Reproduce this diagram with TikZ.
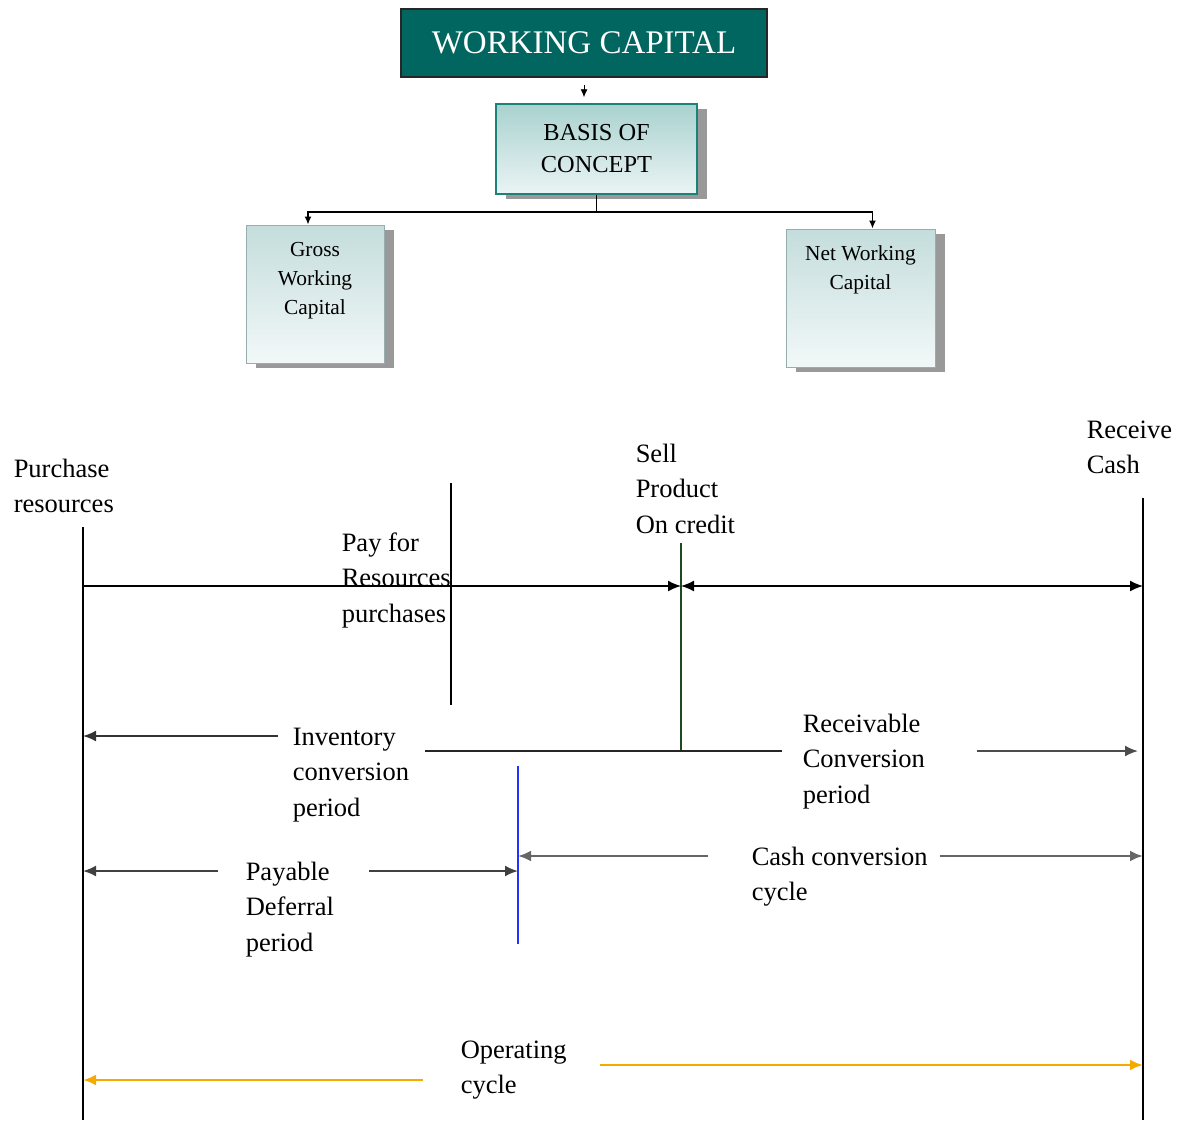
\documentclass[tikz,border=0pt]{standalone}
\usepackage{fontspec}
\setmainfont{Liberation Serif}
\usetikzlibrary{%
    arrows.meta,
    positioning,
    shadows
}
\definecolor{wcteal}{HTML}{00665F}
\definecolor{basistop}{HTML}{A9D2CF}
\definecolor{basisbot}{HTML}{EAF4F4}
\definecolor{basisline}{HTML}{1B8279}
\definecolor{subtop}{HTML}{C4DDDC}
\definecolor{subbot}{HTML}{F2F8F8}
\definecolor{subline}{HTML}{97AEAE}
\definecolor{sellline}{HTML}{1E4A22}
\definecolor{cccline}{HTML}{2233FF}
\definecolor{opline}{HTML}{F5AA00}
\tikzset{headarrow/.style = {-{Latex[length=13pt,width=11pt]}}}
\tikzset{botharrow/.style = {{Latex[length=13pt,width=11pt]}-{Latex[length=13pt,width=11pt]}}}
\tikzset{smallarrow/.style = {-{Latex[length=8pt,width=7pt]}}}
\tikzset{boxshadow/.style = {drop shadow={shadow xshift=10pt,shadow yshift=-5pt,fill=black!40,opacity=1}}}
\tikzset{subbox/.style = {boxshadow,top color=subtop,bottom color=subbot,draw=subline,line width=.8pt,inner sep=0pt}}
\tikzset{subtext/.style = {inner sep=0pt,align=center,anchor=base,font=\fontsize{21.4}{29}\selectfont}}
\tikzset{timetext/.style = {inner sep=0pt,align=left,anchor=base west,font=\fontsize{26.5}{35.5}\selectfont}}

\begin{document}
\begin{tikzpicture}[x=1pt,y=-1pt,line width=1.5pt]
    \useasboundingbox (0,0) rectangle (1181,1120);

    \node[fill=wcteal,draw=black!85,line width=1.5pt,minimum width=366pt,minimum height=68pt,inner sep=0pt,text=white,font=\fontsize{33}{38}\selectfont] (wc) at (584,43) {WORKING CAPITAL};
    \node[boxshadow,top color=basistop,bottom color=basisbot,draw=basisline,line width=1.5pt,minimum width=201pt,minimum height=90pt,inner sep=0pt,align=center,font=\fontsize{24.4}{32}\selectfont] (basis) at (596.5,149) {BASIS OF\\CONCEPT};
    \node[subbox,minimum width=138pt,minimum height=138pt] (gross) at (315,294) {};
    \node[subbox,minimum width=149pt,minimum height=138pt] (net) at (860.5,298) {};
    \node[subtext] (gross-txt) at (315,314) {Gross\\Working\\Capital};
    \node[subtext] (net-txt) at (860.5,289) {Net Working\\Capital};
    \coordinate (fork) at ([yshift=-17pt]basis.south);

    \draw[smallarrow,line width=.9pt,shorten <=7pt,shorten >=6pt] (wc.south) -- (wc.south |- basis.north);
    \draw[line width=1.8pt] (basis.south) -- (fork);
    \draw[smallarrow,line width=1.8pt] (fork) -| ([xshift=-7pt]gross.north);
    \draw[smallarrow,line width=1.8pt] (fork) -| ([xshift=12pt]net.north);

    \node[timetext] (buy) at (13,512.5) {Purchase\\resources};
    \node[timetext] (recv) at (1086,473.5) {Receive\\Cash};
    \node[timetext] (sell) at (635,533) {Sell\\Product\\On credit};
    \node[timetext] (payfor) at (341,622) {Pay for\\Resources\\purchases};
    \node[timetext] (inv) at (292,816) {Inventory\\conversion\\period};
    \node[timetext] (rec) at (802,803) {Receivable\\Conversion\\period};
    \node[timetext] (pay) at (245,951) {Payable\\Deferral\\period};
    \node[timetext] (ccc) at (751,900.5) {Cash conversion\\cycle};
    \node[timetext] (op) at (460,1093.5) {Operating\\cycle};

    \coordinate (buy-top) at (83,527);
    \coordinate (buy-end) at (83,1120);
    \coordinate (recv-top) at (1143,498);
    \coordinate (recv-end) at (1143,1120);
    \coordinate (sell-top) at (681,543);
    \coordinate (sell-end) at (681,751);
    \coordinate (payfor-top) at (451,483);
    \coordinate (payfor-end) at (451,705);
    \coordinate (ccc-top) at (518,766);
    \coordinate (ccc-end) at (518,944);
    \foreach \row/\y in {sell/586, inv/736, rec/751, ccc/856, pay/871, opl/1080, opr/1065}
        \coordinate (r-\row) at (0,\y);

    \draw (buy-top) -- (buy-end);
    \draw (recv-top) -- (recv-end);
    \draw (payfor-top) -- (payfor-end);
    \draw[sellline] (sell-top) -- (sell-end);
    \draw[cccline] (ccc-top) -- (ccc-end);

    \draw[headarrow] (buy-top |- r-sell) -- (sell-top |- r-sell);
    \draw[botharrow] (sell-top |- r-sell) -- (recv-top |- r-sell);
    \draw[headarrow,black!80,line width=1.8pt] ([xshift=-14pt]inv.west |- r-inv) -- (buy-top |- r-inv);
    \draw[black!85] ([xshift=15pt]inv.east |- r-rec) -- ([xshift=-20pt]rec.west |- r-rec);
    \draw[headarrow,black!70,line width=2pt] ([xshift=51pt]rec.east |- r-rec) -- ([xshift=-5pt]recv-top |- r-rec);
    \draw[headarrow,black!75,line width=2pt] ([xshift=-27pt]pay.west |- r-pay) -- (buy-top |- r-pay);
    \draw[headarrow,black!75,line width=2pt] ([xshift=34pt]pay.east |- r-pay) -- (ccc-top |- r-pay);
    \draw[headarrow,black!60,line width=2.5pt] ([xshift=-43pt]ccc.west |- r-ccc) -- (ccc-top |- r-ccc);
    \draw[headarrow,black!60,line width=2.5pt] ([xshift=12pt]ccc.east |- r-ccc) -- (recv-top |- r-ccc);
    \draw[headarrow,opline,line width=2.6pt] ([xshift=-37pt]op.west |- r-opl) -- (buy-top |- r-opl);
    \draw[headarrow,opline,line width=2.6pt] ([xshift=33pt]op.east |- r-opr) -- (recv-top |- r-opr);
\end{tikzpicture}
\end{document}
